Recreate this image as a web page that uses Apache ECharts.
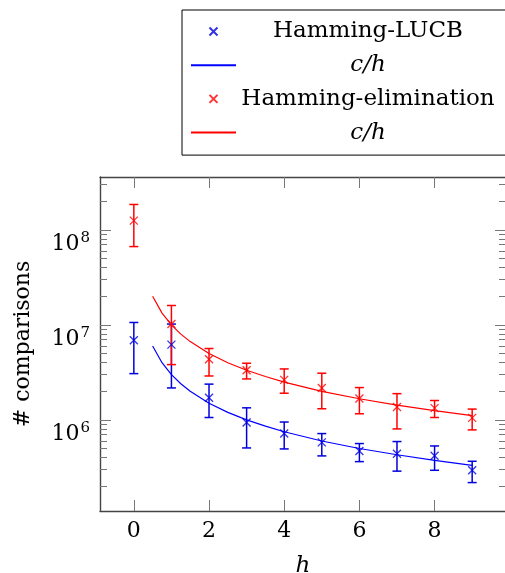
<!DOCTYPE html>
<html>
<head>
<meta charset="utf-8">
<script src="https://cdn.jsdelivr.net/npm/echarts@6/dist/echarts.min.js"></script>
<style>
  html, body { margin: 0; padding: 0; background: #fff; }
  #chart { width: 505px; height: 573px; }
</style>
</head>
<body>
<div id="chart"></div>
<script>
// h values (x axis)
var hValues = [0, 1, 2, 3, 4, 5, 6, 7, 8, 9];

// Hamming-LUCB: mean and error bar ends
var lucbMean = [6.9e6, 6.2e6, 1.71e6, 9.4e5, 7.2e5, 5.8e5, 4.7e5, 4.4e5, 4.2e5, 2.95e5];
var lucbLow  = [3.07e6, 2.17e6, 1.06e6, 5.07e5, 4.95e5, 4.18e5, 3.64e5, 2.89e5, 2.95e5, 2.19e5];
var lucbHigh = [1.06e7, 1.02e7, 2.38e6, 1.34e6, 9.5e5, 7.18e5, 5.64e5, 5.92e5, 5.32e5, 3.67e5];

// Hamming-elimination
var elimMean = [1.25e8, 1.02e7, 4.35e6, 3.33e6, 2.64e6, 2.17e6, 1.68e6, 1.37e6, 1.33e6, 1.05e6];
var elimLow  = [6.67e7, 3.82e6, 2.9e6, 2.7e6, 1.91e6, 1.31e6, 1.16e6, 8.04e5, 1.06e6, 7.85e5];
var elimHigh = [1.85e8, 1.6e7, 5.64e6, 3.95e6, 3.44e6, 3.1e6, 2.19e6, 1.89e6, 1.6e6, 1.3e6];

// c/h fit curves
var fitH    = [0.5, 0.75, 1, 1.25, 1.5, 2, 2.5, 3, 3.5, 4, 5, 6, 7, 8, 9];
var fitLucb = [6.0e6, 4.0e6, 3.0e6, 2.4e6, 2.0e6, 1.5e6, 1.2e6, 1.0e6, 8.6e5, 7.5e5, 6.0e5, 5.0e5, 4.3e5, 3.75e5, 3.33e5];
var fitElim = [2.0e7, 1.33e7, 1.0e7, 8.0e6, 6.67e6, 5.0e6, 4.0e6, 3.33e6, 2.86e6, 2.5e6, 2.0e6, 1.67e6, 1.43e6, 1.25e6, 1.11e6];

// axis ticks
var xTicks = [0, 2, 4, 6, 8];
var yMajor = [1e6, 1e7, 1e8];
var yMinor = [2e5, 3e5, 4e5, 5e5, 6e5, 7e5, 8e5, 9e5,
              2e6, 3e6, 4e6, 5e6, 6e6, 7e6, 8e6, 9e6,
              2e7, 3e7, 4e7, 5e7, 6e7, 7e7, 8e7, 9e7,
              2e8, 3e8];

var BLUE = '#0000dd';
var RED = '#ff0000';
var FONT = 'DejaVu Serif';
var CROSS = 'path://M0,0L10,10M10,0L0,10';

var zip = function (a, b) { return a.map(function (v, i) { return [v, b[i]]; }); };
var errData = function (mean, low, high) {
  return hValues.map(function (h, i) { return [h, mean[i], low[i], high[i]]; });
};

// error bars drawn through the axis scales
var errorBars = function (color) {
  return function (params, api) {
    var h = api.value(0);
    var lo = api.coord([h, api.value(2)]);
    var hi = api.coord([h, api.value(3)]);
    var w = 4.5;
    var st = { stroke: color, lineWidth: 1.5 };
    return {
      type: 'group',
      children: [
        { type: 'line', shape: { x1: lo[0], y1: lo[1], x2: hi[0], y2: hi[1] }, style: st },
        { type: 'line', shape: { x1: lo[0] - w, y1: lo[1], x2: lo[0] + w, y2: lo[1] }, style: st },
        { type: 'line', shape: { x1: hi[0] - w, y1: hi[1], x2: hi[0] + w, y2: hi[1] }, style: st }
      ]
    };
  };
};

var axisLine = { show: true, onZero: false, lineStyle: { color: '#444', width: 1.4 } };
var noLine = { show: false, onZero: false };
var tickStyle = { color: '#777', width: 1 };

var yBase = { type: 'log', logBase: 10, min: 1.1e5, max: 3.6e8, splitLine: { show: false } };

// legend line entries: hide the dot, keep the line
var lineOnly = { color: 'transparent', borderWidth: 0, borderColor: 'transparent' };

var chart = echarts.init(document.getElementById('chart'));
chart.setOption({
  animation: false,
  backgroundColor: '#fff',
  grid: { left: 100, top: 177, width: 406, height: 334, outerBoundsMode: 'none' },
  legend: {
    orient: 'vertical',
    left: 182, top: 10,
    padding: [10, 30, 11, 8],
    itemGap: 10.7,
    itemWidth: 45, itemHeight: 8,
    borderColor: '#000', borderWidth: 1,
    backgroundColor: '#fff',
    data: [
      { name: 'Hamming-LUCB' },
      { name: 'c/h', itemStyle: lineOnly },
      { name: 'Hamming-elimination' },
      { name: 'c/h ', itemStyle: lineOnly }
    ],
    formatter: function (name) {
      return name.trim() === 'c/h' ? '{it|c/h}' : '{t|' + name + '}';
    },
    textStyle: {
      color: '#000',
      rich: {
        t: { fontFamily: FONT, fontSize: 23, lineHeight: 25, width: 254, align: 'center', color: '#000' },
        it: { fontFamily: FONT, fontSize: 23, fontStyle: 'italic', lineHeight: 25, width: 254, align: 'center', color: '#000' }
      }
    }
  },
  xAxis: [
    {
      type: 'value', min: -0.9, max: 9.9, position: 'bottom',
      axisLine: axisLine,
      axisTick: { inside: true, length: 11, lineStyle: tickStyle, customValues: xTicks },
      axisLabel: { customValues: xTicks, margin: 9, fontFamily: FONT, fontSize: 22, color: '#000' },
      splitLine: { show: false },
      name: 'h', nameLocation: 'middle', nameGap: 44,
      nameTextStyle: { fontFamily: FONT, fontSize: 23, fontStyle: 'italic', color: '#000' }
    },
    {
      type: 'value', min: -0.9, max: 9.9, position: 'top',
      axisLine: axisLine,
      axisTick: { inside: true, length: 11, lineStyle: tickStyle, customValues: xTicks },
      axisLabel: { show: false },
      splitLine: { show: false }
    }
  ],
  yAxis: [
    Object.assign({}, yBase, {
      position: 'left',
      axisLine: axisLine,
      axisTick: { inside: true, length: 11, lineStyle: tickStyle, customValues: yMajor },
      axisLabel: {
        customValues: yMajor, margin: 10,
        formatter: function (v) { return '{b|10}{s|' + Math.round(Math.log10(v)) + '}'; },
        rich: {
          b: { fontFamily: FONT, fontSize: 22, color: '#000', verticalAlign: 'bottom', padding: [28, 0, 0, 0] },
          s: { fontFamily: FONT, fontSize: 15, color: '#000', verticalAlign: 'bottom', padding: [0, 0, 9, 1] }
        }
      },
      name: '# comparisons', nameLocation: 'middle', nameGap: 66, nameRotate: 90,
      nameTextStyle: { fontFamily: FONT, fontSize: 22, color: '#000' }
    }),
    Object.assign({}, yBase, {
      position: 'left',
      axisLine: noLine,
      axisTick: { inside: true, length: 7, lineStyle: tickStyle, customValues: yMinor },
      axisLabel: { show: false }
    }),
    Object.assign({}, yBase, {
      position: 'right',
      axisLine: axisLine,
      axisTick: { inside: true, length: 11, lineStyle: tickStyle, customValues: yMajor },
      axisLabel: { show: false }
    }),
    Object.assign({}, yBase, {
      position: 'right',
      axisLine: noLine,
      axisTick: { inside: true, length: 7, lineStyle: tickStyle, customValues: yMinor },
      axisLabel: { show: false }
    })
  ],
  series: [
    {
      name: 'c/h', type: 'line', data: zip(fitH, fitLucb),
      symbol: 'none', lineStyle: { color: 'blue', width: 1.2 }, itemStyle: { color: 'blue' }
    },
    {
      name: 'c/h ', type: 'line', data: zip(fitH, fitElim),
      symbol: 'none', lineStyle: { color: RED, width: 1.2 }, itemStyle: { color: RED }
    },
    {
      type: 'custom', renderItem: errorBars(BLUE), data: errData(lucbMean, lucbLow, lucbHigh),
      encode: { x: 0, y: 1 }, z: 3
    },
    {
      type: 'custom', renderItem: errorBars(RED), data: errData(elimMean, elimLow, elimHigh),
      encode: { x: 0, y: 1 }, z: 3
    },
    {
      name: 'Hamming-LUCB', type: 'scatter', data: zip(hValues, lucbMean),
      symbol: CROSS, symbolSize: 8, symbolKeepAspect: true,
      itemStyle: { color: BLUE, borderColor: BLUE, borderWidth: 1.3 }, z: 4
    },
    {
      name: 'Hamming-elimination', type: 'scatter', data: zip(hValues, elimMean),
      symbol: CROSS, symbolSize: 8, symbolKeepAspect: true,
      itemStyle: { color: RED, borderColor: RED, borderWidth: 1.3 }, z: 4
    }
  ]
});
</script>
</body>
</html>
